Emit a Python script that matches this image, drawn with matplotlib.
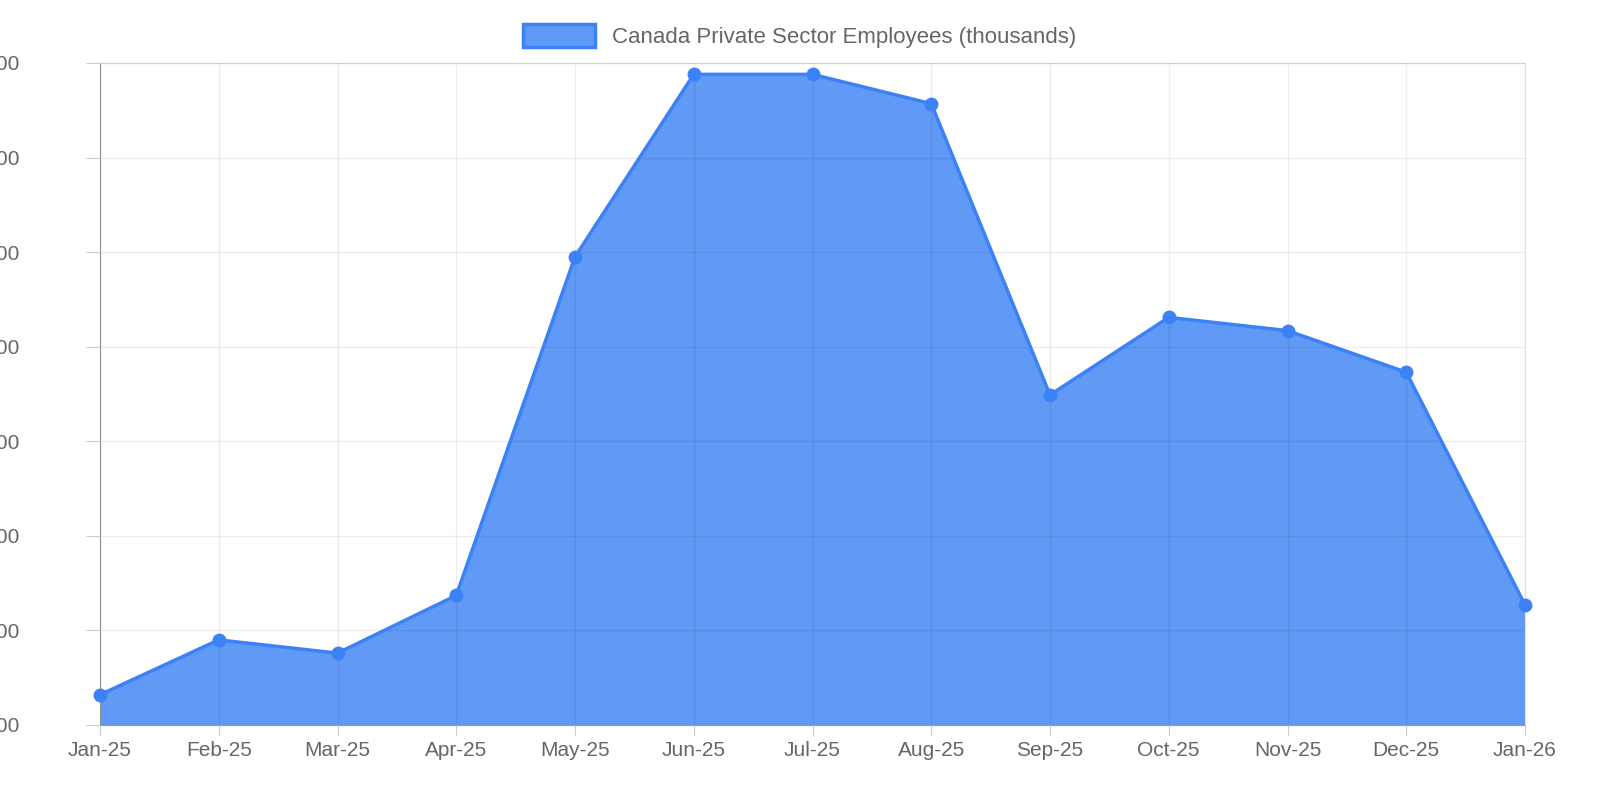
import matplotlib
matplotlib.use("Agg")
import matplotlib.pyplot as plt
from matplotlib.patches import Patch

months = ["Jan-25", "Feb-25", "Mar-25", "Apr-25", "May-25", "Jun-25", "Jul-25",
          "Aug-25", "Sep-25", "Oct-25", "Nov-25", "Dec-25", "Jan-26"]
employees = [13432, 13490, 13476, 13537, 13895, 14088, 14088,
             14057, 13749, 13831, 13817, 13773, 13527]
yticks = [13400, 13500, 13600, 13700, 13800, 13900, 14000, 14100]

plt.rcParams["font.family"] = ["Liberation Sans", "DejaVu Sans"]
line_color = "#3b82f6"
fill_color = "#6199f6"
text_color = "#666666"

fig = plt.figure(figsize=(16, 8), dpi=100)
ax = fig.add_axes([100 / 1600, 75 / 800, 1425 / 1600, 662 / 800])

x = list(range(len(months)))
ax.fill_between(x, employees, 13400, color=fill_color, zorder=1, linewidth=0)
ax.plot(x, employees, color=line_color, linewidth=2.5, marker="o",
        markersize=9, zorder=3, clip_on=False)

ax.set_xlim(0, len(months) - 1)
ax.set_ylim(13400, 14100)
ax.set_xticks(x)
ax.set_xticklabels(months)
ax.set_yticks(yticks)
ax.grid(True, color="#000000", alpha=0.07, linewidth=1, zorder=2)
ax.set_axisbelow(False)
for side in ["top", "right"]:
    ax.spines[side].set_color("#e0e0e0")
ax.spines["bottom"].set_color("#999999")
ax.spines["left"].set_color("#999999")
ax.tick_params(colors=text_color, labelsize=15, length=8, color="#cccccc")
ax.tick_params(axis="y", pad=90, length=10)
for lbl in ax.get_yticklabels():
    lbl.set_color(text_color)
    lbl.set_horizontalalignment("left")
for lbl in ax.get_xticklabels():
    lbl.set_color(text_color)

handle = Patch(facecolor=fill_color, edgecolor=line_color, linewidth=2.5)
fig.legend([handle], ["Canada Private Sector Employees (thousands)"],
           loc="upper center", bbox_to_anchor=(0.5, 0.995), frameon=False,
           fontsize=16, labelcolor=text_color, handlelength=3.2, handleheight=1.2)

fig.savefig("out.png", dpi=100)
